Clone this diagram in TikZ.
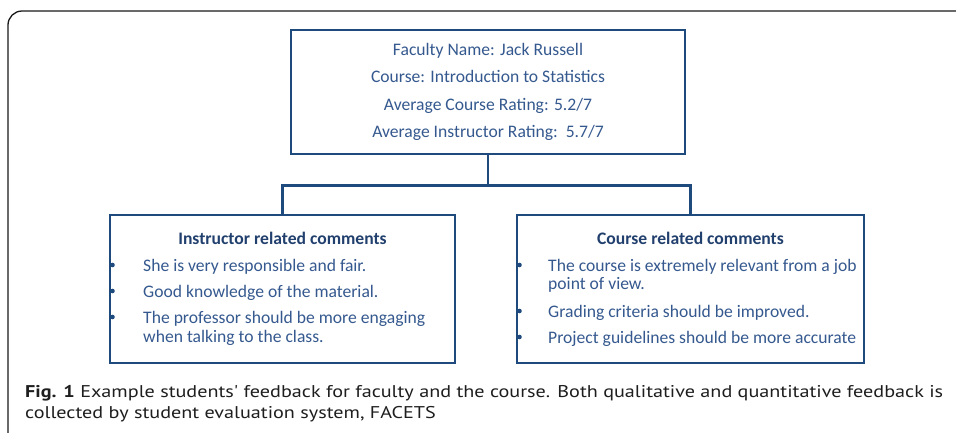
\documentclass[tikz,border=0pt]{standalone}
\usepackage{fontspec}
\usepackage{graphicx}
\setmainfont{Carlito}
\newfontfamily\capfont{PT Sans}
\definecolor{boxline}{HTML}{1F4A7E}
\definecolor{boxtext}{HTML}{35598F}
\definecolor{headtext}{HTML}{22406E}
\definecolor{captext}{HTML}{1E1E1E}
\definecolor{frameline}{HTML}{1A1A1A}
\newcommand\capone{\textbf{Fig. 1} Example students' feedback for faculty and the course. Both qualitative and quantitative feedback is}
\newcommand\captwo{collected by student evaluation system, FACETS}
\newlength\capwd
\newsavebox\capbox
\begin{document}
% measure the first caption line so both lines share one horizontal squeeze
\sbox\capbox{\capfont\fontsize{17}{20}\selectfont\capone}%
\setlength\capwd{\wd\capbox}%
\begin{tikzpicture}[x=1pt,y=-1pt,
  panel/.style={draw=boxline,line width=2.9pt,fill=white,inner sep=0pt},
  link/.style={draw=boxline,line width=2.9pt},
  info/.style={anchor=base,inner sep=0pt,text=boxtext,font=\fontsize{17.6}{20}\selectfont},
  head/.style={anchor=base,inner sep=0pt,text=headtext,font=\fontsize{17.6}{20}\selectfont\bfseries},
  item/.style={anchor=base west,inner sep=0pt,text=boxtext,font=\fontsize{17.6}{20}\selectfont},
  dot/.style={circle,fill=boxline,inner sep=0pt,minimum size=4.6pt},
  captionline/.style={anchor=base west,inner sep=0pt,text=captext,font=\capfont\fontsize{17}{20}\selectfont}]
\useasboundingbox (0,0) rectangle (956,432);
\fill[white] (0,0) rectangle (956,432);

% outer frame, open to the right and bottom
\draw[frameline,line width=1.3pt,rounded corners=14pt] (956,11) -- (8,11) -- (8,440);

% summary box and the two comment boxes
\node[panel,minimum width=394,minimum height=124] (top) at (488,92) {};
\node[panel,minimum width=345,minimum height=148] (left) at (282.5,289) {};
\node[panel,minimum width=347,minimum height=148] (right) at (690.5,289) {};

% tree connectors
\draw[link] (top.south) -- ++(0,30) coordinate (fork);
\draw[link] (left.north) |- (fork) -| (right.north);

% summary text
\node[info] (t1) at (488,55) {Faculty Name: Jack Russell};
\node[info] (t2) at (488,82.5) {Course: Introduction to Statistics};
\node[info] (t3) at (488,110) {Average Course Rating: 5.2/7};
\node[info] (t4) at (488,137) {Average Instructor Rating:\ \ 5.7/7};

% instructor comments
\node[head] (lh) at (282.5,244) {Instructor related comments};
\node[dot] (lb1) at (112.5,265) {};
\node[item] (l1) at (143,271) {She is very responsible and fair.};
\node[dot] (lb2) at (112.5,291) {};
\node[item] (l2) at (143,297) {Good knowledge of the material.};
\node[dot] (lb3) at (112.5,317) {};
\node[item] (l3a) at (143,323) {The professor should be more engaging};
\node[item] (l3b) at (143,342) {when talking to the class.};

% course comments
\node[head] (rh) at (690.5,244) {Course related comments};
\node[dot] (rb1) at (519.5,265) {};
\node[item] (r1a) at (548,271) {The course is extremely relevant from a job};
\node[item] (r1b) at (548,289) {point of view.};
\node[dot] (rb2) at (519.5,311) {};
\node[item] (r2) at (548,317) {Grading criteria should be improved.};
\node[dot] (rb3) at (519.5,337) {};
\node[item] (r3) at (548,343) {Project guidelines should be more accurate};

% caption, condensed to the frame width
\pgfmathsetmacro\capsx{918/\capwd}
\node[captionline] (c1) at (25,397.5) {\scalebox{\capsx}[1]{\capone}};
\node[captionline] (c2) at (25,418.5) {\scalebox{\capsx}[1]{\captwo}};
\end{tikzpicture}
\end{document}
